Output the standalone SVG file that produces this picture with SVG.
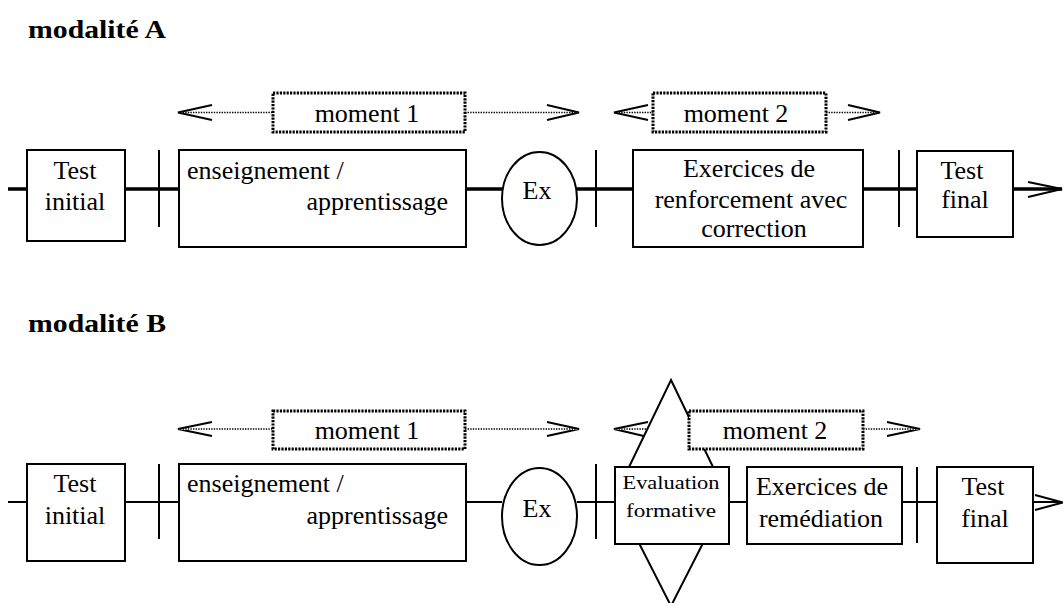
<svg xmlns="http://www.w3.org/2000/svg" width="1063" height="603" viewBox="0 0 1063 603">
<style>
text{font-family:"Liberation Serif","Times New Roman",serif;fill:#000}
.t{font-size:26px}
.title{font-size:26px;font-weight:bold}
.box{fill:#fff;stroke:#000;stroke-width:2}
.mbox{fill:#fff;stroke:#000;stroke-width:3;stroke-dasharray:2.2 1.2}
.dot{stroke:#000;stroke-width:1.4;stroke-dasharray:1.4 1.2;fill:none}
.chev{stroke:#000;stroke-width:2;fill:none}
.la{stroke:#000;stroke-width:3.5;fill:none}
.lb{stroke:#000;stroke-width:2.2;fill:none}
.tick{stroke:#000;stroke-width:2;fill:none}
.c{text-anchor:middle}
</style>
<rect width="1063" height="603" fill="#fff"/>
<text class="title" x="28" y="38" textLength="138" lengthAdjust="spacingAndGlyphs">modalité A</text>
<text class="title" x="28" y="332" textLength="138" lengthAdjust="spacingAndGlyphs">modalité B</text>

<g id="connectors">
<!-- A main line -->
<path class="la" d="M8 189H27M125 189H179M466 189H502M577 189H633M863 189H917M1013 189H1062"/>
<path class="chev" d="M1028 182L1062 189L1028 197"/>
<path class="tick" d="M159 150V227M596 150V227M899 150V227"/>
<!-- A moment arrows -->
<path class="dot" d="M180 112.5H273M465 112.5H578M616 112.5H653M826 112.5H878"/>
<path class="chev" d="M212 105L178 112.5L212 120M547 105L579 112.5L547 120M648 105L614 112.5L648 120M848 105L880 112.5L848 120"/>
<!-- B main line -->
<path class="lb" d="M8 502H27M125 502H179M466 502H502M577 502H615M729 502H747M902 502H937M1032 502H1062"/>
<path class="chev" d="M1035 495L1063 502.5L1035 510"/>
<path class="tick" d="M159 464V539M596 464V539M917 467V543"/>
<!-- B moment arrows -->
<path class="dot" d="M180 429H273M465 429H578M616 429H689M863 429H918"/>
<path class="chev" d="M212 422L178 429L212 436M547 422L579 429L547 436M648 422L614 429L648 437M887 422L920 429L887 436"/>
</g>

<g id="A-test-initial"><rect class="box" x="27" y="150" width="98" height="91"/>
<text class="t c" x="75" y="179">Test</text><text class="t c" x="75" y="210">initial</text></g>
<g id="A-enseignement"><rect class="box" x="179" y="150" width="287" height="97"/>
<text class="t" x="187" y="179">enseignement /</text><text class="t" x="448" y="210" text-anchor="end">apprentissage</text></g>
<g id="A-ex"><ellipse class="box" cx="539.5" cy="198.5" rx="37.5" ry="46.5"/>
<text class="t c" x="537" y="199">Ex</text></g>
<g id="A-exercices"><rect class="box" x="633" y="150" width="230" height="97"/>
<text class="t c" x="749" y="177">Exercices de</text><text class="t c" x="751" y="208">renforcement avec</text><text class="t c" x="754" y="237">correction</text></g>
<g id="A-test-final"><rect class="box" x="917" y="151" width="96" height="86"/>
<text class="t c" x="962" y="179">Test</text><text class="t c" x="965" y="208">final</text></g>
<g id="A-moment1"><rect class="mbox" x="273" y="93" width="192" height="39"/>
<text class="t c" x="367" y="122">moment 1</text></g>
<g id="A-moment2"><rect class="mbox" x="653" y="93" width="173" height="39"/>
<text class="t c" x="736" y="122">moment 2</text></g>

<g id="B-test-initial"><rect class="box" x="27" y="464" width="98" height="97"/>
<text class="t c" x="75" y="492">Test</text><text class="t c" x="75" y="524">initial</text></g>
<g id="B-enseignement"><rect class="box" x="179" y="464" width="287" height="97"/>
<text class="t" x="187" y="492">enseignement /</text><text class="t" x="448" y="524" text-anchor="end">apprentissage</text></g>
<g id="B-ex"><ellipse class="box" cx="539.5" cy="516.5" rx="37.5" ry="48.5"/>
<text class="t c" x="537" y="517">Ex</text></g>
<g id="B-evaluation"><polygon fill="#fff" stroke="#000" stroke-width="2" points="671,380 727,496 671,606 615,496"/>
<rect class="box" x="615" y="467" width="114" height="77"/>
<text class="c" x="671" y="489" font-size="19" textLength="97" lengthAdjust="spacingAndGlyphs">Evaluation</text>
<text class="c" x="671" y="517" font-size="19" textLength="90" lengthAdjust="spacingAndGlyphs">formative</text></g>
<g id="B-remediation"><rect class="box" x="747" y="467" width="155" height="77"/>
<text class="t c" x="822" y="495">Exercices de</text><text class="t c" x="821" y="527">remédiation</text></g>
<g id="B-test-final"><rect class="box" x="937" y="467" width="96" height="96"/>
<text class="t c" x="983" y="495">Test</text><text class="t c" x="985" y="527">final</text></g>
<g id="B-moment1"><rect class="mbox" x="273" y="411" width="192" height="38"/>
<text class="t c" x="367" y="439">moment 1</text></g>
<g id="B-moment2"><rect class="mbox" x="689" y="411" width="174" height="38"/>
<text class="t c" x="775" y="439">moment 2</text></g>
</svg>
